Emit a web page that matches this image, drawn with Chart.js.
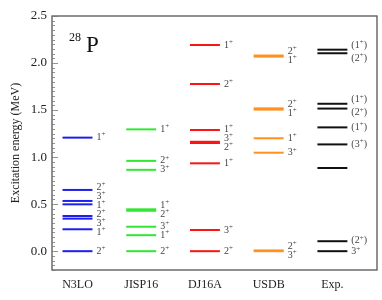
<!DOCTYPE html>
<html>
<head>
<meta charset="utf-8">
<script src="https://cdn.jsdelivr.net/npm/chart.js@4.4.1/dist/chart.umd.min.js"></script>
<style>
html,body{margin:0;padding:0;background:#fff;}
#wrap{width:382px;height:300px;}
</style>
</head>
<body>
<div id="wrap"><canvas id="myChart" width="382" height="300"></canvas></div>
<script>
const models = ['N3LO', 'JISP16', 'DJ16A', 'USDB', 'Exp.'];
const yTicks = [0, 0.5, 1.0, 1.5, 2.0, 2.5];

// level energies (MeV) and spin labels per model
const n3loE = [0, 0.233, 0.346, 0.374, 0.498, 0.534, 0.651, 1.207];
const n3loJ = ['2+', '1+', '3+', '2+', '1+', '3+', '2+', '1+'];
const jispE = [0, 0.17, 0.26, 0.43, 0.445, 0.865, 0.96, 1.295];
const jispJ = ['2+', '1+', '3+', '2+', '1+', '3+', '2+', '1+'];
const djE = [0, 0.225, 0.934, 1.15, 1.163, 1.288, 1.777, 2.192];
const djJ = ['2+', '3+', '1+', '2+', '3+', '1+', '2+', '1+'];
const usdbE = [0, 0.008, 1.047, 1.2, 1.505, 1.518, 2.068, 2.08];
const usdbJ = ['3+', '2+', '3+', '1+', '1+', '2+', '1+', '2+'];
const expE = [0, 0.106, 0.884, 1.135, 1.316, 1.516, 1.567, 2.104, 2.142];
const expJ = ['3+', '(2+)', '', '(3+)', '(1+)', '(2+)', '(1+)', '(2+)', '(1+)'];

const levelE = [n3loE, jispE, djE, usdbE, expE];
const levelJ = [n3loJ, jispJ, djJ, usdbJ, expJ];
const colors = ['rgb(30,30,240)', 'rgb(50,230,50)', 'rgb(250,20,20)', 'rgb(255,145,30)', '#111'];

const halfW = 0.235;
const serif = "'Liberation Serif', 'DejaVu Serif', serif";

const datasets = [];
levelE.forEach((arr, i) => {
	arr.forEach(e => {
		datasets.push({
			data: [{x: i - halfW, y: e}, {x: i + halfW, y: e}],
			borderColor: colors[i],
			borderWidth: 2,
			pointRadius: 0,
			fill: false,
		});
	});
});

// spread overlapping labels apart, keeping each group centred on its levels
function spread(items) {
	items.sort((a, b) => a.y0 - b.y0);
	const place = c => {
		let acc = 0;
		const offs = c.list.map(it => { const o = acc + it.h / 2; acc += it.h; return o; });
		const meanOff = offs.reduce((s, o) => s + o, 0) / offs.length;
		const meanDes = c.list.reduce((s, it) => s + it.y0, 0) / c.list.length;
		c.top = meanDes - meanOff;
		c.bottom = c.top + acc;
		c.list.forEach((it, k) => it.y = c.top + offs[k]);
	};
	const cl = items.map(it => ({list: [it]}));
	cl.forEach(place);
	let merged = true;
	while (merged) {
		merged = false;
		for (let k = 0; k < cl.length - 1; k++) {
			if (cl[k].bottom > cl[k + 1].top + 0.01) {
				cl[k].list = cl[k].list.concat(cl[k + 1].list);
				cl.splice(k + 1, 1);
				place(cl[k]);
				merged = true;
				break;
			}
		}
	}
}

function drawSpin(ctx, txt, x, y) {
	ctx.textBaseline = 'middle';
	ctx.textAlign = 'left';
	for (const ch of txt) {
		if (ch === '+') {
			ctx.font = '7px ' + serif;
			ctx.fillText('+', x, y - 3);
			x += ctx.measureText('+').width;
		} else {
			ctx.font = '10px ' + serif;
			ctx.fillText(ch, x, y);
			x += ctx.measureText(ch).width;
		}
	}
}

const decoPlugin = {
	id: 'deco',
	afterDatasetsDraw(chart) {
		const ctx = chart.ctx;
		const a = chart.chartArea;
		const xs = chart.scales.x, ys = chart.scales.y;
		ctx.save();
		// frame
		ctx.strokeStyle = '#555';
		ctx.lineWidth = 1.3;
		ctx.strokeRect(a.left, a.top, a.right - a.left, a.bottom - a.top);
		// inward ticks on the left axis
		ctx.lineWidth = 0.8;
		ctx.strokeStyle = '#777';
		for (let k = -4; k <= 50; k++) {
			const py = Math.round(ys.getPixelForValue(k * 0.05)) + 0.5;
			const len = k % 10 === 0 ? 6 : 3;
			ctx.beginPath();
			ctx.moveTo(a.left, py);
			ctx.lineTo(a.left + len, py);
			ctx.stroke();
		}
		// spin labels
		ctx.fillStyle = '#444';
		levelE.forEach((arr, i) => {
			const items = [];
			arr.forEach((e, k) => {
				const j = levelJ[i][k];
				if (!j) return;
				items.push({txt: j, y0: ys.getPixelForValue(e), h: j.includes('(') ? 13 : 9});
			});
			spread(items);
			const lx = xs.getPixelForValue(i + halfW) + 4;
			items.forEach(it => drawSpin(ctx, it.txt, lx, it.y));
		});
		// nucleus tag
		ctx.fillStyle = '#111';
		ctx.textBaseline = 'alphabetic';
		ctx.textAlign = 'left';
		ctx.font = '12px ' + serif;
		ctx.fillText('28', a.left + 17, a.top + 25);
		ctx.font = '23px ' + serif;
		ctx.fillText('P', a.left + 34, a.top + 36);
		ctx.restore();
	}
};

const config = {
	type: 'line',
	data: {datasets},
	options: {
		responsive: false,
		animation: false,
		layout: {padding: {left: 0, top: 16, right: 5, bottom: 0}},
		plugins: {legend: {display: false}, tooltip: {enabled: false}},
		scales: {
			x: {
				type: 'linear',
				min: -0.4,
				max: 4.7,
				afterBuildTicks: s => { s.ticks = models.map((m, i) => ({value: i})); },
				afterFit: s => { s.height = 30; },
				grid: {display: false, drawTicks: false},
				border: {display: false},
				ticks: {
					padding: 8,
					color: '#222',
					font: {family: serif, size: 12},
					callback: v => models[v],
				},
			},
			y: {
				type: 'linear',
				min: -0.2,
				max: 2.5,
				afterBuildTicks: s => { s.ticks = yTicks.map(v => ({value: v})); },
				afterFit: s => { s.width = 52; },
				grid: {display: false, drawTicks: false},
				border: {display: false},
				ticks: {
					padding: 5,
					color: '#222',
					font: {family: serif, size: 13},
					callback: v => v.toFixed(1),
				},
				title: {
					display: true,
					text: 'Excitation energy (MeV)',
					color: '#222',
					font: {family: serif, size: 12},
					padding: {top: 9, bottom: 0},
				},
			},
		},
	},
	plugins: [decoPlugin],
};

const ctx = document.getElementById('myChart').getContext('2d');
const myChart = new Chart(ctx, config);
</script>
</body>
</html>
